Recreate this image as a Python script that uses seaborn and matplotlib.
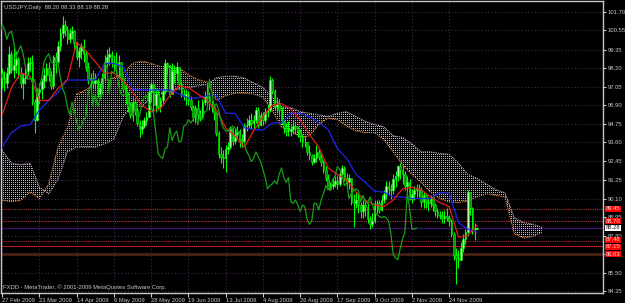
import numpy as np
import pandas as pd
import matplotlib
matplotlib.use("Agg")
import matplotlib.pyplot as plt
import matplotlib.colors as mcolors
import matplotlib.transforms as mtransforms
from matplotlib.path import Path
import seaborn as sns

# ---------------- data ----------------
chart_title = "USDJPY,Daily  88.20 88.33 88.19 88.28"
footer_text = "FXDD - MetaTrader, \u00a9 2001-2009 MetaQuotes Software Corp."

date_labels = ["27 Feb 2009", "23 Mar 2009", "14 Apr 2009", "6 May 2009", "28 May 2009",
               "19 Jun 2009", "13 Jul 2009", "4 Aug 2009", "26 Aug 2009", "17 Sep 2009",
               "9 Oct 2009", "2 Nov 2009", "24 Nov 2009"]
date_label_bars = [0, 16, 32, 48, 64, 80, 96, 112, 128, 144, 160, 176, 192]

price_ticks = [101.70, 100.55, 99.35, 98.20, 97.05, 95.90, 94.75, 93.60, 92.45,
               91.25, 90.10, 88.95, 87.80, 86.65, 85.50, 84.35]
hidden_tick = 86.65  # covered by a level label in the reference

closes = [97.6, 97.3, 97.9, 99.1, 98.1, 98.4, 98.8, 97.9, 97.3, 97.6, 98.0, 98.5, 98.6, 96.1, 95.0, 96.7,
          96.9, 97.4, 97.8, 98.2, 97.8, 97.1, 98.9, 98.6, 99.6, 100.4, 100.9, 100.6, 100.0, 100.4, 100.5, 99.8,
          98.9, 99.3, 99.6, 99.1, 98.3, 97.5, 97.6, 97.3, 97.5, 96.6, 97.0, 97.6, 98.6, 98.9, 99.1, 98.6,
          98.5, 98.4, 98.6, 97.6, 96.9, 96.6, 95.8, 95.3, 96.1, 95.6, 94.8, 94.4, 94.6, 95.0, 95.2, 96.7,
          97.2, 95.9, 96.6, 95.8, 96.2, 96.8, 98.5, 98.3, 96.6, 98.0, 97.9, 98.3, 97.2, 96.6, 96.5, 96.6,
          96.2, 95.8, 95.2, 95.7, 95.3, 95.2, 96.1, 96.4, 96.5, 96.0, 95.8, 95.4, 94.2, 92.9, 92.7, 92.6,
          93.2, 93.3, 94.5, 93.7, 94.1, 94.3, 93.6, 93.7, 94.6, 94.7, 95.0, 94.8, 95.0, 95.6, 94.7, 95.3,
          95.0, 95.5, 95.6, 97.5, 96.8, 95.8, 96.0, 95.6, 94.9, 94.5, 94.3, 94.3, 94.4, 94.6, 94.5, 94.3,
          94.0, 93.6, 93.6, 93.0, 92.8, 92.4, 92.6, 93.0, 92.7, 92.4, 91.9, 91.4, 90.7, 90.9, 91.0, 91.2,
          91.0, 91.6, 92.0, 91.4, 91.1, 91.4, 89.9, 89.8, 90.0, 89.7, 89.3, 89.7, 89.6, 88.8, 88.5, 88.7,
          89.8, 89.8, 89.4, 90.0, 90.4, 90.9, 90.7, 90.6, 91.3, 91.5, 92.1, 91.9, 91.6, 90.9, 91.1, 90.1,
          90.4, 90.6, 90.7, 90.6, 89.9, 90.3, 89.9, 89.8, 90.2, 89.7, 89.3, 89.1, 89.0, 88.9, 89.0, 88.9,
          88.7, 87.9, 86.6, 86.4, 86.3, 87.0, 87.6, 88.0, 90.5, 89.5, 88.2, 88.2, 88.28]
highs = [98.2, 98.0, 98.3, 99.6, 99.3, 99.6, 99.3, 98.9, 98.3, 97.9, 98.4, 98.9, 98.9, 99.0, 96.3, 97.0,
         97.3, 97.6, 98.2, 98.5, 98.6, 98.0, 99.0, 99.2, 99.9, 100.7, 101.45, 101.2, 100.8, 100.7, 100.8, 100.6,
         99.9, 99.5, 99.8, 100.0, 99.3, 98.6, 97.9, 98.1, 97.9, 97.6, 97.3, 97.9, 99.0, 99.4, 99.5, 99.3,
         99.0, 99.2, 99.0, 98.6, 97.6, 97.2, 96.7, 96.1, 96.4, 96.3, 95.8, 95.0, 95.0, 95.2, 95.5, 97.0,
         97.4, 97.3, 97.0, 96.9, 96.4, 97.0, 98.8, 98.6, 98.4, 98.5, 98.4, 98.6, 98.2, 97.4, 96.9, 96.9,
         96.8, 96.5, 95.9, 95.9, 96.2, 95.6, 96.3, 96.8, 97.2, 96.7, 96.2, 96.0, 95.5, 94.3, 93.3, 93.1,
         93.4, 93.6, 94.6, 94.5, 94.4, 94.6, 94.4, 94.1, 94.8, 95.1, 95.3, 95.4, 95.3, 95.8, 95.8, 95.5,
         95.5, 95.7, 96.0, 97.75, 97.6, 96.9, 96.4, 96.3, 95.8, 95.0, 94.8, 94.9, 94.7, 95.0, 94.8, 94.6,
         94.4, 94.1, 94.0, 93.6, 93.4, 92.9, 92.9, 93.4, 93.2, 92.9, 92.5, 92.1, 91.6, 91.1, 91.4, 91.5,
         91.5, 91.8, 92.2, 92.1, 91.7, 91.6, 91.4, 90.4, 90.5, 90.4, 89.9, 90.0, 90.0, 89.8, 89.0, 89.2,
         90.0, 90.0, 90.0, 90.3, 90.6, 91.2, 91.2, 91.0, 91.6, 91.8, 92.2, 92.3, 92.2, 91.8, 91.5, 91.3,
         90.7, 90.9, 91.0, 91.0, 90.8, 90.5, 90.4, 90.2, 90.3, 90.3, 89.8, 89.5, 89.3, 89.3, 89.4, 89.5,
         89.1, 88.8, 88.0, 87.0, 86.9, 87.4, 87.9, 88.2, 90.6, 90.4, 89.6, 88.6, 88.33]
lows = [97.0, 96.8, 97.0, 97.8, 97.9, 97.6, 97.9, 97.6, 97.0, 96.3, 97.2, 97.7, 98.0, 95.9, 94.2, 94.9,
        96.0, 96.3, 97.0, 97.4, 97.4, 96.9, 96.9, 97.9, 98.5, 99.3, 100.1, 100.2, 99.7, 99.8, 100.0, 99.4,
        98.7, 98.3, 98.8, 98.6, 98.0, 97.2, 96.9, 97.0, 96.9, 96.4, 96.4, 96.6, 97.4, 98.3, 98.4, 98.3,
        98.0, 97.9, 97.6, 97.4, 96.7, 96.0, 95.5, 95.1, 94.9, 95.3, 94.6, 93.9, 94.1, 94.5, 94.7, 95.2,
        96.1, 95.5, 95.5, 95.6, 95.5, 95.9, 96.6, 97.8, 96.4, 96.6, 97.3, 97.5, 96.9, 96.4, 96.2, 95.9,
        95.9, 95.6, 94.9, 94.8, 95.0, 94.9, 95.1, 95.9, 96.0, 95.6, 95.5, 95.0, 94.0, 92.6, 92.3, 92.0,
        91.75, 92.9, 93.2, 93.4, 93.5, 93.8, 93.3, 93.3, 93.6, 94.3, 94.5, 94.4, 94.4, 94.8, 94.5, 94.6,
        94.7, 94.8, 95.2, 95.5, 96.6, 95.6, 95.4, 95.3, 94.7, 94.2, 94.0, 94.0, 94.0, 94.1, 94.1, 93.9,
        93.6, 93.3, 93.3, 92.8, 92.5, 92.2, 92.3, 92.4, 92.5, 92.1, 91.7, 91.2, 90.7, 90.6, 90.7, 90.8,
        90.7, 90.9, 91.4, 91.2, 90.8, 90.7, 89.7, 88.3, 89.5, 89.2, 88.9, 88.9, 89.0, 88.6, 88.2, 88.3,
        88.6, 89.2, 89.2, 89.3, 89.8, 90.1, 90.3, 90.1, 90.4, 90.8, 91.2, 91.3, 91.0, 90.6, 90.5, 90.0,
        89.8, 90.0, 90.2, 90.2, 89.6, 89.5, 89.5, 89.3, 89.6, 89.3, 89.0, 88.9, 88.8, 88.6, 88.6, 88.7,
        88.4, 87.7, 86.3, 84.8, 85.8, 86.4, 86.8, 87.3, 87.8, 89.1, 87.9, 87.5, 88.19]
first_open = 97.9

# Ichimoku lines read every 4 bars
tenkan_sen = [95.3, 97.0, 97.9, 97.7, 96.2, 96.2, 96.95, 97.5, 99.8, 99.3, 98.6, 97.9, 97.9,
              97.4, 96.75, 95.9, 95.5, 95.7, 96.5, 97.1, 97.0, 96.6, 96.2, 95.6, 94.5, 94.0,
              93.3, 94.3, 95.2, 95.9, 96.0, 95.65, 95.0, 94.1, 93.3, 92.0, 91.6, 91.25, 90.5,
              90.0, 89.7, 89.6, 90.0, 90.7, 90.8, 90.65, 90.2, 89.85, 89.6, 87.7, 87.8, 88.45]
kijun_sen = [93.3, 94.2, 94.6, 94.7, 95.6, 96.2, 96.7, 97.47, 97.47, 97.47, 97.47, 98.5, 98.5,
             98.3, 96.9, 96.85, 96.85, 96.85, 96.85, 96.6, 96.35, 96.35, 96.5, 96.5, 95.4, 95.4,
             94.5, 94.4, 94.36, 94.8, 94.8, 95.4, 95.4, 95.2, 94.8, 94.4, 93.2, 92.6, 91.6,
             91.1, 90.55, 90.5, 90.2, 90.2, 90.1, 90.1, 90.1, 90.45, 90.45, 88.6, 88.2, 88.0]
senkou_a = [90.0, 89.9, 90.0, 90.5, 90.1, 91.0, 93.3, 94.5, 96.6, 96.85, 97.3, 97.47, 97.6, 97.9,
            98.5, 98.65, 98.5, 98.3, 98.35, 98.2, 97.8, 97.5, 97.35, 96.2, 96.5, 96.65, 96.65,
            96.6, 96.4, 95.6, 94.55, 94.36, 93.9, 94.0, 94.7, 95.1, 95.0, 94.6, 94.3, 94.2, 94.2,
            93.75, 93.0, 92.2, 91.6, 91.1, 90.5, 90.1, 89.9, 89.85, 89.95, 90.2, 90.4, 90.3,
            90.2, 87.9, 87.65, 87.75, 88.0]
senkou_b = [93.1, 92.3, 92.2, 92.3, 90.8, 90.4, 91.3, 93.0, 93.3, 93.3, 93.3, 93.5, 93.8, 95.2,
            95.9, 95.8, 96.4, 96.6, 96.8, 96.9, 97.0, 97.1, 97.2, 97.6, 97.7, 97.7, 97.6, 97.3,
            97.0, 96.4, 95.8, 95.75, 95.5, 95.4, 95.3, 95.2, 95.4, 95.5, 95.2, 94.9, 94.7, 94.55,
            94.0, 93.9, 93.5, 93.0, 93.0, 92.9, 92.85, 92.3, 91.6, 91.35, 91.0, 90.65, 90.45,
            88.9, 88.6, 88.5, 88.3]
chikou_shift = 26

# horizontal line objects (price levels) and their right-axis labels
level_prices = [89.45, 88.70, 88.28, 87.48, 87.15, 86.63]
level_labels = ["89.45", "88.70", "88.28", "87.48", "87.15", "86.63"]

# ---------------- style ----------------
sns.set_theme(style="dark")
plt.rcParams["font.family"] = ["Liberation Sans", "DejaVu Sans"]
FG = "#c8c8c8"
FS = 4.2

W_PX, H_PX = 625, 303
fig = plt.figure(figsize=(W_PX / 100, H_PX / 100), dpi=100, facecolor="black")
ax = fig.add_axes([1 / W_PX, 10 / H_PX, 602 / W_PX, 292 / H_PX])
ax.set_facecolor("black")
XLIM = (-0.5, 258.1)
YLIM = (84.226, 102.384)
ax.set_xlim(*XLIM)
ax.set_ylim(*YLIM)

# grid / ticks
ax.set_xticks(date_label_bars)
ax.set_xticklabels(date_labels)
ax.set_yticks(price_ticks)
ax.set_yticklabels(["" if abs(v - hidden_tick) < 1e-9 else f"{v:.2f}" for v in price_ticks])
ax.yaxis.tick_right()
ax.grid(True, color="#46264e", linestyle=(0, (1, 2)), linewidth=0.8)
ax.set_axisbelow(True)
ax.tick_params(axis="x", colors=FG, labelsize=FS, length=3, width=0.8, pad=0.5, bottom=True)
ax.tick_params(axis="y", colors=FG, labelsize=FS, length=2, width=0.8, pad=1.5, right=True, left=False)
for lbl in ax.get_xticklabels():
    lbl.set_horizontalalignment("left")
for sp in ax.spines.values():
    sp.set_visible(True)
    sp.set_color(FG)
    sp.set_linewidth(1)

# horizontal level lines
level_styles = [("#a83838", (0, (1, 1)), 0.8), ("#a83838", (0, (1, 1)), 0.8),
                ("#3c1470", "-", 0.9), ("#b02828", (0, (1, 1)), 0.8),
                ("#c81818", "-", 0.7), ("#4a2216", "-", 2.0)]
for lev, (col, ls, lw) in zip(level_prices, level_styles):
    ax.axhline(lev, color=col, linestyle=ls, linewidth=lw, zorder=1.5)

# ---------------- cloud (dotted hatching) ----------------
cloud_x = np.arange(len(senkou_a)) * 4
sa = np.array(senkou_a)
sb = np.array(senkou_b)
bb = ax.get_window_extent()
tw, th = int(round(bb.width)), int(round(bb.height))
BULL_CLOUD = "#e8924e"
BEAR_CLOUD = "#c4b2c4"


def dotted_region(mask, color, z):
    coll = ax.fill_between(cloud_x, sa, sb, where=mask, interpolate=True,
                           facecolor="none", edgecolor="none")
    paths = coll.get_paths()
    coll.remove()
    img = np.zeros((th, tw, 4))
    img[1::2, ::2] = mcolors.to_rgba(color)
    im = ax.imshow(img, extent=(XLIM[0], XLIM[1], YLIM[0], YLIM[1]), origin="upper",
                   aspect="auto", interpolation="nearest", zorder=z)
    im.set_clip_path(Path.make_compound_path(*paths), ax.transData)


dotted_region(sa >= sb, BULL_CLOUD, 2.0)
dotted_region(sa < sb, BEAR_CLOUD, 2.0)
ax.set_xlim(*XLIM)
ax.set_ylim(*YLIM)

span_df = pd.DataFrame({"bar": cloud_x, "a": sa, "b": sb})
sns.lineplot(data=span_df, x="bar", y="a", ax=ax, color=BULL_CLOUD, linewidth=0.8,
             linestyle=(0, (1, 1)), zorder=2.1, estimator=None, sort=False)
sns.lineplot(data=span_df, x="bar", y="b", ax=ax, color=BEAR_CLOUD, linewidth=0.8,
             linestyle=(0, (1, 1)), zorder=2.1, estimator=None, sort=False)

# ---------------- candles ----------------
c = np.array(closes)
h = np.array(highs)
l = np.array(lows)
o = np.r_[first_open, c[:-1]]
bars = np.arange(len(c))
ax.vlines(bars, l, h, color="#00ff00", linewidth=0.8, zorder=3)
body_lo = np.minimum(o, c)
body_h = np.maximum(np.abs(c - o), 0.04)
fills = np.where(c >= o, "#b4ffb4", "#009400")
ax.bar(bars, body_h, bottom=body_lo, width=0.72, color=fills, edgecolor="#00ff00",
       linewidth=0.4, zorder=3.1)

# ---------------- indicator lines ----------------
line_x = np.arange(len(tenkan_sen)) * 4
ind_df = pd.DataFrame({"bar": line_x, "tenkan": tenkan_sen, "kijun": kijun_sen})
sns.lineplot(data=ind_df, x="bar", y="kijun", ax=ax, color="#2222ee", linewidth=0.9,
             zorder=4, estimator=None, sort=False)
sns.lineplot(data=ind_df, x="bar", y="tenkan", ax=ax, color="#e81c1c", linewidth=0.9,
             zorder=4.1, estimator=None, sort=False)
chikou_df = pd.DataFrame({"bar": bars - chikou_shift, "close": c})
sns.lineplot(data=chikou_df, x="bar", y="close", ax=ax, color="#14a014", linewidth=0.9,
             zorder=4.2, estimator=None, sort=False)

ax.set_xlim(*XLIM)
ax.set_ylim(*YLIM)
ax.set_xlabel("")
ax.set_ylabel("")

# ---------------- right-side level labels ----------------
trans = mtransforms.blended_transform_factory(ax.transAxes, ax.transData)
nudge = {"87.48": 1.0, "87.15": -1.0}
for lev, txt in zip(level_prices, level_labels):
    if txt == "88.28":
        fc, tc = "#ffffff", "#202020"
    else:
        fc, tc = "#ff0000", "#ffd0d0"
    tr = mtransforms.offset_copy(trans, fig=fig, x=0, y=nudge.get(txt, 0.0), units="dots")
    ax.text(1.004, lev, txt, transform=tr, ha="left", va="center", fontsize=FS,
            color=tc, zorder=6, clip_on=False,
            bbox=dict(boxstyle="square,pad=0.1", fc=fc, ec="none"))

# ---------------- texts ----------------
fig.text(4 / W_PX, 1 - 7 / H_PX, chart_title, fontsize=FS, color=FG, va="center", ha="left")
fig.text(3 / W_PX, 1 - 287 / H_PX, footer_text, fontsize=FS, color=FG, va="center", ha="left")

fig.savefig("out.png", dpi=100, facecolor="black")
